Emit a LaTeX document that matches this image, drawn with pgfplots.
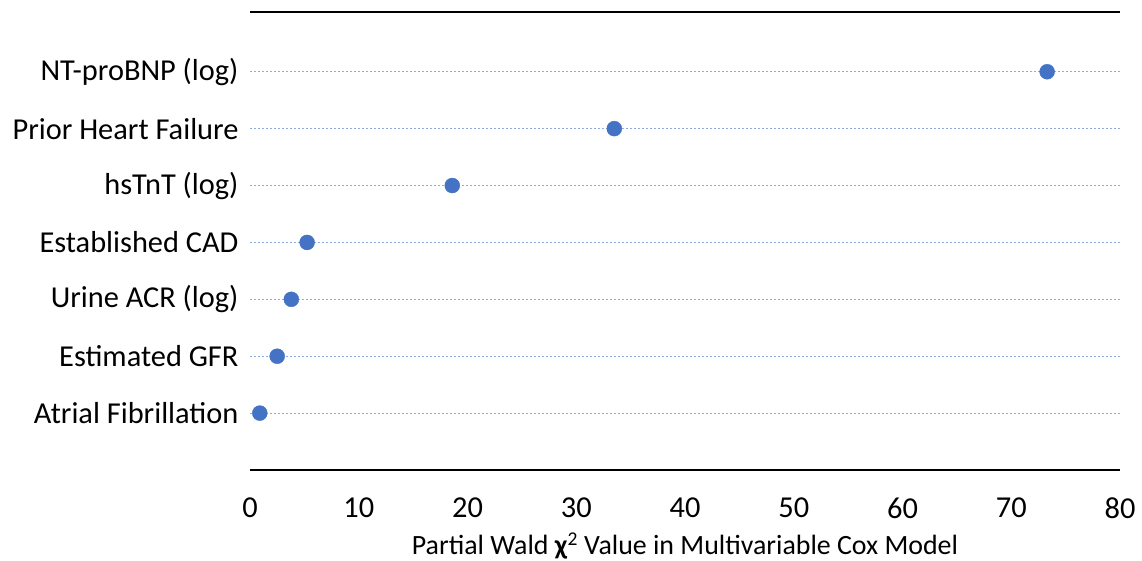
\documentclass[border=0pt]{standalone}
\usepackage{pgfplots}
\pgfplotsset{compat=1.18}
\usepackage{fontspec}
\setmainfont{Carlito}
\definecolor{dotblue}{HTML}{4472C4}
\definecolor{gridblue}{HTML}{8FAADC}
\begin{document}
\begin{tikzpicture}
\begin{axis}[
    scale only axis,
    width=870bp, height=458bp,
    xmin=0, xmax=80, ymin=0, ymax=8.05,
    xtick={0,10,...,80},
    ytick={1,...,7},
    yticklabels={Atrial Fibrillation, Estimated GFR, Urine ACR (log), Established CAD, hsTnT (log), Prior Heart Failure, NT-proBNP (log)},
    major tick length=0pt,
    separate axis lines,
    x axis line style={line width=1.6bp, black},
    y axis line style={draw=none},
    ymajorgrids,
    grid style={gridblue, line width=1bp, dash pattern=on 2.4bp off 1.6bp},
    tick label style={font=\fontsize{30.5}{34}\selectfont},
    /pgf/number format/assume math mode=true,
    xticklabel style={yshift=-24bp},
    yticklabel style={xshift=-8bp},
    xlabel={Partial Wald \textbf{χ}\textsuperscript{2} Value in Multivariable Cox Model},
    xlabel style={font=\fontsize{28}{32}\selectfont, yshift=-7bp},
]
\addplot[only marks, mark=*, mark size=7.5bp, dotblue, mark options={draw=dotblue, fill=dotblue}] coordinates {
    (0.9,1) (2.5,2) (3.8,3) (5.25,4) (18.6,5) (33.5,6) (73.3,7)
};
\end{axis}
\pgfresetboundingbox
\path[use as bounding box] ([xshift=-250bp,yshift=-90bp]current axis.south west) rectangle ([xshift=22bp,yshift=12bp]current axis.north east);
\end{tikzpicture}
\end{document}
